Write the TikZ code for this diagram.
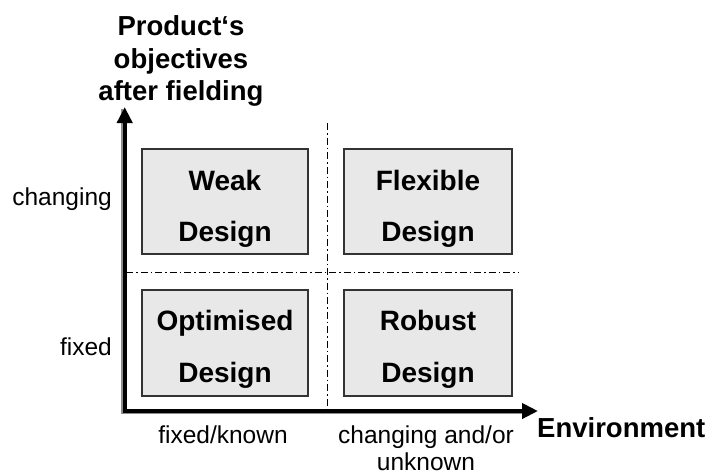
\documentclass[tikz,border=0pt]{standalone}
\usepackage{fontspec}
\setmainfont{Liberation Sans}
\usetikzlibrary{arrows.meta}
\begin{document}
\begin{tikzpicture}[x=1pt,y=-1pt,
  quad/.style={draw=black!80,line width=1.2pt,fill=black!9,minimum width=166pt,minimum height=105pt,inner sep=0pt},
  boxtext/.style={anchor=base,inner sep=0pt,font=\fontsize{28}{32}\selectfont\bfseries},
  title/.style={anchor=base,inner sep=0pt,font=\fontsize{27.5}{32}\selectfont\bfseries},
  lbl/.style={inner sep=0pt,font=\fontsize{24.5}{29}\selectfont},
  axis/.style={line width=4pt,-{Triangle[length=16pt,width=15pt]}},
  divider/.style={line width=0.9pt,dash pattern=on 7pt off 3pt on 1.5pt off 3pt}]
\useasboundingbox (0,0) rectangle (708,475);
% title
\node[title] (t1) at (181,35) {Product‘s};
\node[title] (t2) at (181,68) {objectives};
\node[title] (t3) at (181,100) {after fielding};
% boxes
\node[quad] (weak) at (225,201.5) {};
\node[quad,minimum width=168pt] (flex) at (428,201.5) {};
\node[quad,minimum height=106pt] (opt) at (225,343) {};
\node[quad,minimum width=168pt,minimum height=106pt] (rob) at (428,343) {};
\node[boxtext] (w1) at (225,190.5) {Weak};
\node[boxtext] (w2) at (225,241.5) {Design};
\node[boxtext] (f1) at (428,190.5) {Flexible};
\node[boxtext] (f2) at (428,241.5) {Design};
\node[boxtext] (o1) at (225,330.5) {Optimised};
\node[boxtext] (o2) at (225,382) {Design};
\node[boxtext] (r1) at (428,330.5) {Robust};
\node[boxtext] (r2) at (428,382) {Design};
% dividers
\coordinate (hl) at (126,272);
\coordinate (hr) at (518,272);
\coordinate (vt) at (327,123);
\coordinate (vb) at (327,411);
\draw[divider] (hl) -- (hr);
\draw[divider] (vt) -- (vb);
% axes
\coordinate (ytip) at (124.7,107);
\coordinate (xtip) at (538,411);
\coordinate (corner) at (122.7,411);
\draw[black!45,line width=1.5pt] (122,109) -- (122,413.5) -- (530,413.5);
\draw[axis] (124.7,413) -- (ytip);
\draw[axis] (corner) -- (xtip);
% axis labels
\node[lbl,anchor=base east] (ych) at (112,205) {changing};
\node[lbl,anchor=base east] (yfx) at (112,355) {fixed};
\node[lbl,anchor=base] (xfk) at (223,443) {fixed/known};
\node[lbl,anchor=base] (xch1) at (426,443) {changing and/or};
\node[lbl,anchor=base] (xch2) at (426,470) {unknown};
\node[anchor=base west,inner sep=0pt,font=\fontsize{27.5}{32}\selectfont\bfseries] (env) at (537,437) {Environment};
\end{tikzpicture}
\end{document}
